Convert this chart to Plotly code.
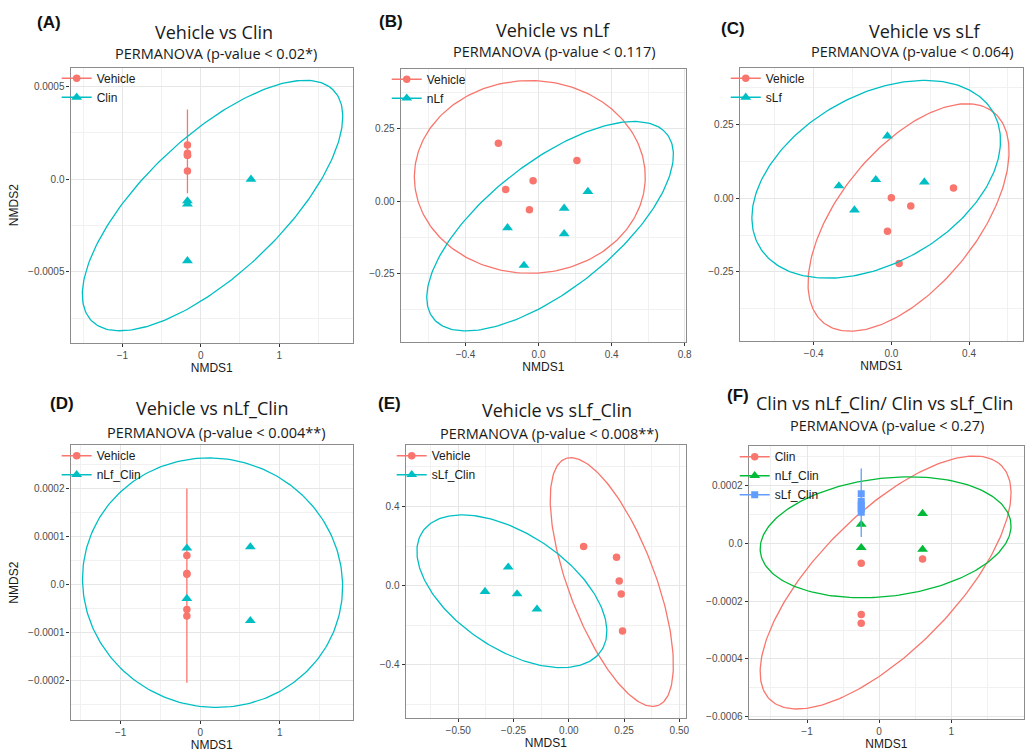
import numpy as np
import plotly.graph_objects as go

RED, TEAL, GREEN, BLUE = "#F8766D", "#00BFC4", "#00BA38", "#619CFF"

# ---------------- data ----------------
# ellipse arrays: [centre x, centre y, half-width, half-height, x-offset of topmost point]

# (A) Vehicle vs Clin
a_vehicle_x = [-0.17, -0.17, -0.17, -0.17, -0.17]
a_vehicle_y = [0.000185, 0.000140, 0.000130, 0.000130, 0.000045]
a_clin_x = [-0.17, -0.17, -0.17, 0.64]
a_clin_y = [-0.000117, -0.000134, -0.000440, 0.0]
a_vehicle_ellipse = [-0.17, 0.000150, 0.0, 0.000226, 0.0]
a_clin_ellipse = [0.15, -0.000142, 1.66, 0.000676, 1.18]

# (B) Vehicle vs nLf
b_vehicle_x = [-0.22, 0.21, -0.03, -0.18, -0.05]
b_vehicle_y = [0.20, 0.14, 0.07, 0.04, -0.03]
b_nlf_x = [0.27, 0.14, -0.17, 0.14, -0.08]
b_nlf_y = [0.033, -0.025, -0.092, -0.113, -0.222]
b_vehicle_ellipse = [-0.048, 0.0835, 0.632, 0.3325, 0.0]
b_nlf_ellipse = [0.063, -0.0865, 0.675, 0.3615, 0.46]

# (C) Vehicle vs sLf
c_vehicle_x = [0.32, 0.0, 0.10, -0.02, 0.04]
c_vehicle_y = [0.035, 0.002, -0.026, -0.112, -0.221]
c_slf_x = [-0.02, -0.27, -0.08, 0.17, -0.19]
c_slf_y = [0.211, 0.042, 0.063, 0.055, -0.040]
c_vehicle_ellipse = [0.0885, -0.065, 0.5175, 0.386, 0.30]
c_slf_ellipse = [-0.078, 0.0645, 0.64, 0.3355, 0.25]

# (D) Vehicle vs nLf_Clin
d_vehicle_x = [-0.168, -0.168, -0.168, -0.168, -0.168]
d_vehicle_y = [0.0000600, 0.0000228, 0.0000210, -0.0000524, -0.0000662]
d_nlfclin_x = [-0.168, -0.168, 0.63, 0.63]
d_nlfclin_y = [0.0000753, -0.0000296, 0.0000780, -0.0000758]
d_vehicle_ellipse = [-0.168, -0.0000025, 0.0, 0.0002025, 0.0]
d_nlfclin_ellipse = [0.155, 0.0000035, 1.635, 0.00026, -0.05]

# (E) Vehicle vs sLf_Clin
e_vehicle_x = [0.067, 0.216, 0.228, 0.237, 0.243]
e_vehicle_y = [0.198, 0.143, 0.024, -0.042, -0.229]
e_slfclin_x = [-0.274, -0.379, -0.234, -0.144]
e_slfclin_y = [0.093, -0.030, -0.042, -0.119]
e_vehicle_ellipse = [0.1945, 0.018, 0.2785, 0.628, -0.185]
e_slfclin_ellipse = [-0.2575, -0.0285, 0.4295, 0.3855, -0.225]

# (F) Clin vs nLf_Clin / Clin vs sLf_Clin
f_clin_x = [-0.248, -0.248, -0.248, 0.603]
f_clin_y = [-0.000069, -0.000246, -0.000276, -0.000054]
f_nlfclin_x = [-0.248, -0.248, 0.603, 0.603]
f_nlfclin_y = [0.0000656, -0.000015, 0.000103, -0.000021]
f_slfclin_x = [-0.248, -0.248, -0.248, -0.248, -0.248]
f_slfclin_y = [0.000172, 0.000145, 0.000133, 0.000120, 0.000108]
f_clin_ellipse = [0.09, -0.0001355, 1.74, 0.0004375, 1.23]
f_nlfclin_ellipse = [0.09, 0.000021, 1.74, 0.000209, 0.33]
f_slfclin_ellipse = [-0.248, 0.0001405, 0.0, 0.0001185, 0.0]

# axis ticks / labels
a_xticks, a_xlabels = [-1, 0, 1], ["−1", "0", "1"]
a_yticks, a_ylabels = [0.0005, 0.0, -0.0005], ["0.0005", "0.0", "−0.0005"]
b_xticks, b_xlabels = [-0.4, 0.0, 0.4, 0.8], ["−0.4", "0.0", "0.4", "0.8"]
b_yticks, b_ylabels = [0.25, 0.0, -0.25], ["0.25", "0.00", "−0.25"]
c_xticks, c_xlabels = [-0.4, 0.0, 0.4], ["−0.4", "0.0", "0.4"]
c_yticks, c_ylabels = [0.25, 0.0, -0.25], ["0.25", "0.00", "−0.25"]
d_xticks, d_xlabels = [-1, 0, 1], ["−1", "0", "1"]
d_yticks = [0.0002, 0.0001, 0.0, -0.0001, -0.0002]
d_ylabels = ["0.0002", "0.0001", "0.0", "−0.0001", "−0.0002"]
e_xticks = [-0.5, -0.25, 0.0, 0.25, 0.5]
e_xlabels = ["−0.50", "−0.25", "0.00", "0.25", "0.50"]
e_yticks, e_ylabels = [0.4, 0.0, -0.4], ["0.4", "0.0", "−0.4"]
f_xticks, f_xlabels = [-1, 0, 1], ["−1", "0", "1"]
f_yticks = [0.0002, 0.0, -0.0002, -0.0004, -0.0006]
f_ylabels = ["0.0002", "0.0", "−0.0002", "−0.0004", "−0.0006"]

panel_letters = ["(A)", "(B)", "(C)", "(D)", "(E)", "(F)"]
panel_titles = ["Vehicle vs Clin", "Vehicle vs nLf", "Vehicle vs sLf",
                "Vehicle vs nLf_Clin", "Vehicle vs sLf_Clin",
                "Clin vs nLf_Clin/ Clin vs sLf_Clin"]
panel_subtitles = ["PERMANOVA (p-value < 0.02*)", "PERMANOVA (p-value < 0.117)",
                   "PERMANOVA (p-value < 0.064)", "PERMANOVA (p-value < 0.004**)",
                   "PERMANOVA (p-value < 0.008**)", "PERMANOVA (p-value < 0.27)"]

# ---------------- layout geometry (pixels) ----------------
W, H = 1032, 754
panels = [
    dict(box=(71, 68, 355, 344), xr=[-1.66, 1.94], yr=[-0.000882, 0.000602],
         xt=(a_xticks, a_xlabels), yt=(a_yticks, a_ylabels), xm=0.5, ym=0.00025,
         ytitle=True, letter=(49, 23), title=(215, 32), sub=(217, 54),
         groups=[("Vehicle", RED, "circle", a_vehicle_x, a_vehicle_y, a_vehicle_ellipse),
                 ("Clin", TEAL, "triangle-up", a_clin_x, a_clin_y, a_clin_ellipse)]),
    dict(box=(403, 69, 690, 343), xr=[-0.755, 0.807], yr=[-0.485, 0.457],
         xt=(b_xticks, b_xlabels), yt=(b_yticks, b_ylabels), xm=0.2, ym=0.125,
         ytitle=False, letter=(393, 22), title=(556, 30), sub=(558, 52),
         groups=[("Vehicle", RED, "circle", b_vehicle_x, b_vehicle_y, b_vehicle_ellipse),
                 ("nLf", TEAL, "triangle-up", b_nlf_x, b_nlf_y, b_nlf_ellipse)]),
    dict(box=(744, 68, 1029, 342), xr=[-0.781, 0.678], yr=[-0.483, 0.443],
         xt=(c_xticks, c_xlabels), yt=(c_yticks, c_ylabels), xm=0.2, ym=0.125,
         ytitle=False, letter=(737, 29), title=(930, 31), sub=(918, 52),
         groups=[("Vehicle", RED, "circle", c_vehicle_x, c_vehicle_y, c_vehicle_ellipse),
                 ("sLf", TEAL, "triangle-up", c_slf_x, c_slf_y, c_slf_ellipse)]),
    dict(box=(71, 447, 355, 723), xr=[-1.63, 1.92], yr=[-0.000283, 0.00029],
         xt=(d_xticks, d_xlabels), yt=(d_yticks, d_ylabels), xm=0.5, ym=0.00005,
         ytitle=True, letter=(62, 405), title=(213, 410), sub=(218, 434),
         groups=[("Vehicle", RED, "circle", d_vehicle_x, d_vehicle_y, d_vehicle_ellipse),
                 ("nLf_Clin", TEAL, "triangle-up", d_nlfclin_x, d_nlfclin_y, d_nlfclin_ellipse)]),
    dict(box=(408, 447, 690, 721), xr=[-0.738, 0.53], yr=[-0.669, 0.709],
         xt=(e_xticks, e_xlabels), yt=(e_yticks, e_ylabels), xm=0.125, ym=0.2,
         ytitle=False, letter=(392, 405), title=(560, 412), sub=(553, 435),
         groups=[("Vehicle", RED, "circle", e_vehicle_x, e_vehicle_y, e_vehicle_ellipse),
                 ("sLf_Clin", TEAL, "triangle-up", e_slfclin_x, e_slfclin_y, e_slfclin_ellipse)]),
    dict(box=(753, 448, 1030, 722), xr=[-1.81, 2.01], yr=[-0.000608, 0.000336],
         xt=(f_xticks, f_xlabels), yt=(f_yticks, f_ylabels), xm=0.5, ym=0.0001,
         ytitle=False, letter=(742, 397), title=(890, 405), sub=(892, 427),
         groups=[("Clin", RED, "circle", f_clin_x, f_clin_y, f_clin_ellipse),
                 ("nLf_Clin", GREEN, "triangle-up", f_nlfclin_x, f_nlfclin_y, f_nlfclin_ellipse),
                 ("sLf_Clin", BLUE, "square", f_slfclin_x, f_slfclin_y, f_slfclin_ellipse)]),
]

SIZES = {"circle": 7.5, "triangle-up": 9.5, "square": 7}


def ellipse_path(params, n=240):
    cx, cy, hx, hy, top_dx = params
    r = top_dx / hx if hx else 0.0
    t = np.linspace(0, 2 * np.pi, n)
    p, m = np.sqrt(1 + r), np.sqrt(1 - r)
    u = (p * np.cos(t) + m * np.sin(t)) / np.sqrt(2)
    v = (p * np.cos(t) - m * np.sin(t)) / np.sqrt(2)
    return cx + hx * u, cy + hy * v


def fx(px):
    return px / W


def fy(py):
    return 1 - py / H


fig = go.Figure()
layout = dict(width=W, height=H, margin=dict(l=0, r=0, t=0, b=0),
              paper_bgcolor="white", plot_bgcolor="white", showlegend=True,
              annotations=[])

TICKFONT = dict(family="Liberation Sans", size=10, color="#4d4d4d")
TITLEFONT = dict(family="Liberation Sans", size=12, color="#1a1a1a")
GRID, MINOR = "#e6e6e6", "#f1f1f1"

for i, p in enumerate(panels, start=1):
    sfx = "" if i == 1 else str(i)
    xname, yname = "x" + sfx, "y" + sfx
    leg = "legend" if i == 1 else f"legend{i}"
    l, t, r, b = p["box"]

    common = dict(showgrid=True, gridcolor=GRID, gridwidth=1, zeroline=False,
                  showline=True, mirror=True, linecolor="#8c8c8c", linewidth=1.2,
                  ticks="outside", ticklen=3, tickcolor="#333333", tickwidth=1,
                  tickfont=TICKFONT, tickmode="array")
    layout["xaxis" + sfx] = dict(
        common, domain=[fx(l), fx(r)], range=p["xr"], anchor=yname,
        tickvals=p["xt"][0], ticktext=p["xt"][1],
        minor=dict(tickmode="linear", tick0=0, dtick=p["xm"], showgrid=True,
                   gridcolor=MINOR, gridwidth=0.8, ticks=""),
        title=dict(text="NMDS1", font=TITLEFONT, standoff=3))
    layout["yaxis" + sfx] = dict(
        common, domain=[fy(b), fy(t)], range=p["yr"], anchor=xname,
        tickvals=p["yt"][0], ticktext=p["yt"][1],
        minor=dict(tickmode="linear", tick0=0, dtick=p["ym"], showgrid=True,
                   gridcolor=MINOR, gridwidth=0.8, ticks=""),
        title=dict(text="NMDS2" if p["ytitle"] else "", font=TITLEFONT, standoff=6))

    layout[leg] = dict(x=fx(l - 14), y=fy(t - 4), xanchor="left", yanchor="top",
                       bgcolor="rgba(0,0,0,0)", itemwidth=30, tracegroupgap=0,
                       traceorder="normal",
                       font=dict(family="Liberation Sans", size=12, color="#1a1a1a"))

    for name, col, sym, xs, ys, ell in p["groups"]:
        fig.add_trace(go.Scatter(x=xs, y=ys, mode="markers", xaxis=xname, yaxis=yname,
                                 marker=dict(color=col, symbol=sym, size=SIZES[sym]),
                                 showlegend=False, hoverinfo="x+y"))
        ex, ey = ellipse_path(ell)
        fig.add_trace(go.Scatter(x=ex, y=ey, mode="lines", xaxis=xname, yaxis=yname,
                                 line=dict(color=col, width=1.3), showlegend=False,
                                 hoverinfo="skip"))
        fig.add_trace(go.Scatter(x=[None], y=[None], mode="lines+markers", name=name,
                                 xaxis=xname, yaxis=yname, legend=leg,
                                 marker=dict(color=col, symbol=sym, size=SIZES[sym]),
                                 line=dict(color=col, width=1.3)))

    L, T, S = p["letter"], p["title"], p["sub"]
    layout["annotations"] += [
        dict(text="<b>" + panel_letters[i - 1] + "</b>", x=fx(L[0]), y=fy(L[1]),
             xref="paper", yref="paper", showarrow=False, xanchor="center", yanchor="middle",
             font=dict(family="Liberation Sans", size=17, color="#111111")),
        dict(text=panel_titles[i - 1], x=fx(T[0]), y=fy(T[1]), xref="paper", yref="paper",
             showarrow=False, xanchor="center", yanchor="middle",
             font=dict(family="Open Sans", size=18, color="#1a1a1a")),
        dict(text=panel_subtitles[i - 1], x=fx(S[0]), y=fy(S[1]), xref="paper", yref="paper",
             showarrow=False, xanchor="center", yanchor="middle",
             font=dict(family="Open Sans", size=14.5, color="#1a1a1a")),
    ]

fig.update_layout(**layout)
fig.write_html("out.html", config={"displayModeBar": False},
               post_script="document.body.style.margin='0';"
                           "document.body.style.overflow='hidden';")
